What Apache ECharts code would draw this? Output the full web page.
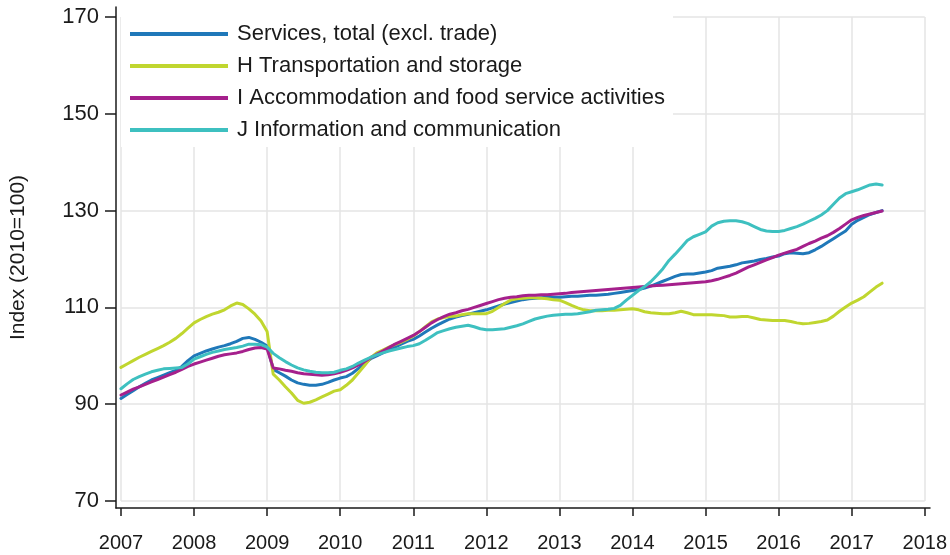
<!DOCTYPE html>
<html>
<head>
<meta charset="utf-8">
<script src="https://cdn.jsdelivr.net/npm/echarts@6/dist/echarts.min.js"></script>
<style>
html,body{margin:0;padding:0;background:#fff;}
#chart{width:950px;height:555px;}
</style>
</head>
<body>
<div id="chart"></div>
<script>
// Monthly index values, Jan 2007 .. Jun 2017
var startYear = 2007;
var seriesNames = [
  'Services, total (excl. trade)',
  'H Transportation and storage',
  'I Accommodation and food service activities',
  'J Information and communication'
];
var servicesTotal = [
  91.2, 92.0, 92.8, 93.6, 94.3, 95.0, 95.5, 96.0, 96.5, 97.0, 97.8, 99.0,
  100.0, 100.5, 101.0, 101.4, 101.8, 102.1, 102.5, 103.0, 103.6, 103.8, 103.4, 102.8,
  102.0, 97.2, 96.5, 95.8, 95.0, 94.4, 94.1, 93.9, 93.9, 94.1, 94.5, 95.0,
  95.4, 95.7, 96.4, 97.4, 98.4, 99.4, 100.0, 100.6, 101.2, 101.8, 102.4, 103.0,
  103.4, 104.1, 104.9, 105.7, 106.4, 107.0, 107.6, 108.0, 108.3, 108.6, 108.9, 109.2,
  109.5, 109.9, 110.3, 110.7, 111.0, 111.3, 111.6, 111.8, 111.9, 112.0, 112.1, 112.1,
  112.1, 112.2, 112.3, 112.3, 112.4, 112.5, 112.5, 112.6, 112.7, 112.9, 113.1, 113.3,
  113.5, 113.7, 114.0, 114.4, 114.9, 115.4, 115.9, 116.4, 116.8, 116.9, 116.9, 117.1,
  117.3, 117.6, 118.1, 118.3, 118.5, 118.8, 119.2, 119.4, 119.6, 119.9, 120.1, 120.4,
  120.6, 121.1, 121.3, 121.2, 121.1, 121.3, 121.9, 122.6, 123.4, 124.2, 125.0, 125.8,
  127.2, 128.0, 128.6, 129.2, 129.6, 130.0
];
var transport = [
  97.6, 98.3, 99.0, 99.7, 100.3, 100.9, 101.5, 102.1, 102.8, 103.6, 104.6, 105.7,
  106.8, 107.5, 108.1, 108.6, 109.0, 109.5, 110.3, 110.9, 110.6, 109.7, 108.6, 107.2,
  105.0, 96.2, 95.0, 93.6, 92.3, 90.8, 90.2, 90.4, 90.9, 91.5, 92.1, 92.7,
  93.0, 93.9, 95.0, 96.5, 98.0, 99.6, 100.6, 101.2, 101.8, 102.3, 102.8, 103.4,
  104.1, 105.0, 106.0, 107.0, 107.6, 107.9, 108.1, 108.2, 108.5, 108.7, 108.7, 108.7,
  108.7, 109.2, 110.0, 110.8, 111.5, 111.8, 111.9, 112.0, 112.0, 111.9, 111.8, 111.6,
  111.5, 111.0, 110.4, 109.9, 109.5, 109.3, 109.3, 109.3, 109.4, 109.4, 109.5, 109.6,
  109.7, 109.5, 109.1, 108.9, 108.8, 108.7, 108.7, 108.9, 109.2, 108.9, 108.5, 108.5,
  108.5, 108.5, 108.4, 108.3, 108.0, 108.0, 108.1, 108.1, 107.8, 107.5, 107.4, 107.3,
  107.3, 107.3, 107.1, 106.8, 106.6, 106.7, 106.9, 107.1, 107.4, 108.2, 109.2, 110.1,
  110.9, 111.5, 112.2, 113.2, 114.2, 115.0
];
var accommodation = [
  91.9, 92.5, 93.1, 93.6, 94.1, 94.6, 95.1, 95.6, 96.1, 96.6, 97.2, 97.8,
  98.3, 98.7, 99.1, 99.5, 99.9, 100.2, 100.4, 100.6, 100.9, 101.3, 101.6, 101.7,
  101.4, 97.5, 97.3, 97.0, 96.8, 96.5, 96.3, 96.2, 96.1, 96.0, 96.1, 96.3,
  96.6, 97.0, 97.5, 98.1, 98.8, 99.6, 100.3, 101.0, 101.7, 102.4, 103.0, 103.6,
  104.2, 105.0, 105.9, 106.8, 107.5, 108.1, 108.6, 108.9, 109.3, 109.6, 110.0, 110.4,
  110.8, 111.2, 111.6, 111.9, 112.1, 112.2, 112.4, 112.5, 112.5, 112.6, 112.6, 112.7,
  112.8, 112.9, 113.1, 113.2, 113.3, 113.4, 113.5, 113.6, 113.7, 113.8, 113.9, 114.0,
  114.1, 114.2, 114.3, 114.4, 114.5, 114.6, 114.7, 114.8, 114.9, 115.0, 115.1, 115.2,
  115.3, 115.5, 115.8, 116.2, 116.6, 117.1, 117.7, 118.3, 118.8, 119.3, 119.8, 120.3,
  120.8, 121.2, 121.6, 122.0, 122.6, 123.2, 123.7, 124.3, 124.8, 125.5, 126.3, 127.2,
  128.1, 128.6, 129.0, 129.3, 129.6, 129.9
];
var information = [
  93.2, 94.2, 95.1, 95.7, 96.2, 96.7, 97.0, 97.3, 97.4, 97.5, 97.6, 98.3,
  99.3, 99.8, 100.3, 100.7, 101.0, 101.3, 101.5, 101.7, 102.0, 102.4, 102.4, 102.3,
  101.8, 100.5, 99.6, 98.8, 98.1, 97.5, 97.1, 96.8, 96.6, 96.5, 96.5, 96.6,
  97.0, 97.3, 97.8, 98.5, 99.1, 99.7, 100.2, 100.6, 101.0, 101.3, 101.6, 101.9,
  102.1, 102.5, 103.2, 104.0, 104.8, 105.2, 105.6, 105.9, 106.1, 106.3, 106.0, 105.6,
  105.4, 105.4, 105.5, 105.6, 105.9, 106.2, 106.6, 107.1, 107.6, 107.9, 108.2, 108.4,
  108.5, 108.6, 108.6, 108.7, 108.9, 109.1, 109.4, 109.5, 109.6, 109.8, 110.4, 111.5,
  112.5, 113.5, 114.3, 115.3, 116.6, 118.0, 119.7, 121.0, 122.4, 123.8, 124.6, 125.1,
  125.6, 126.8, 127.5, 127.8, 127.9, 127.9, 127.7, 127.3, 126.7, 126.1, 125.8, 125.7,
  125.7, 125.9, 126.3, 126.7, 127.2, 127.8, 128.4, 129.1, 130.0, 131.3, 132.6, 133.5,
  133.9, 134.3, 134.8, 135.3, 135.5, 135.3
];
var seriesValues = [servicesTotal, transport, accommodation, information];
var seriesColors = ['#1f78b9', '#c0d62f', '#a5208c', '#3ec0c0'];
var yTicks = [70, 90, 110, 130, 150, 170];
var xYears = [2007, 2008, 2009, 2010, 2011, 2012, 2013, 2014, 2015, 2016, 2017, 2018];

var FONT = "'Liberation Sans', Arial, sans-serif";
var chart = echarts.init(document.getElementById('chart'), null, {renderer: 'canvas'});

function toPoints(vals) {
  return vals.map(function (v, i) { return [startYear + i / 12, v]; });
}

var series = seriesNames.map(function (name, k) {
  return {
    name: name,
    type: 'line',
    xAxisIndex: 1,
    yAxisIndex: 1,
    showSymbol: false,
    symbol: 'none',
    data: toPoints(seriesValues[k]),
    lineStyle: {width: 3, color: seriesColors[k], cap: 'round'},
    itemStyle: {color: seriesColors[k]},
    z: 3
  };
});

var option = {
  backgroundColor: '#fff',
  animation: false,
  textStyle: {fontFamily: FONT},
  grid: [
    {left: 116, right: 20, top: 7, bottom: 47},
    {left: 121, right: 24, top: 17, bottom: 54}
  ],
  xAxis: [
    {
      type: 'value', gridIndex: 0,
      min: xYears[0] - 5 / 73.2, max: xYears[xYears.length - 1] + 4 / 73.2,
      axisLine: {show: true, lineStyle: {color: '#1a1a1a', width: 1.5}},
      axisTick: {show: false}, axisLabel: {show: false}, splitLine: {show: false}
    },
    {
      type: 'value', gridIndex: 1,
      min: xYears[0], max: xYears[xYears.length - 1], interval: 1,
      offset: 7,
      axisLine: {show: false},
      axisTick: {show: true, length: 8, lineStyle: {color: '#1a1a1a', width: 1.5}},
      axisLabel: {show: true, margin: 25, color: '#1a1a1a', fontSize: 20, fontFamily: FONT,
        formatter: function (v) { return String(Math.round(v)); }},
      splitLine: {show: true, lineStyle: {color: '#e4e4e4', width: 1.5}}
    }
  ],
  yAxis: [
    {
      type: 'value', gridIndex: 0,
      min: yTicks[0] - 7 / 4.84, max: yTicks[yTicks.length - 1] + 10 / 4.84,
      name: 'Index (2010=100)', nameLocation: 'middle', nameGap: 87,
      nameTextStyle: {color: '#1a1a1a', fontSize: 21, fontFamily: FONT},
      axisLine: {show: true, lineStyle: {color: '#1a1a1a', width: 1.5}},
      axisTick: {show: false}, axisLabel: {show: false}, splitLine: {show: false}
    },
    {
      type: 'value', gridIndex: 1,
      min: yTicks[0], max: yTicks[yTicks.length - 1], interval: 20,
      offset: 5,
      axisLine: {show: false},
      axisTick: {show: true, length: 11, lineStyle: {color: '#1a1a1a', width: 1.5}},
      axisLabel: {show: true, margin: 17, color: '#1a1a1a', fontSize: 22, fontFamily: FONT},
      splitLine: {show: true, lineStyle: {color: '#e4e4e4', width: 1.5}}
    }
  ],
  legend: {
    show: true,
    orient: 'vertical',
    left: 121, top: 10,
    backgroundColor: '#fff',
    padding: [12, 8, 5, 9],
    itemGap: 8,
    itemWidth: 98,
    itemHeight: 4,
    icon: 'rect',
    data: seriesNames,
    textStyle: {color: '#1a1a1a', fontSize: 22, fontFamily: FONT, lineHeight: 24, padding: [0, 0, 0, 4]},
    z: 10
  },
  series: series
};
chart.setOption(option);
</script>
</body>
</html>
